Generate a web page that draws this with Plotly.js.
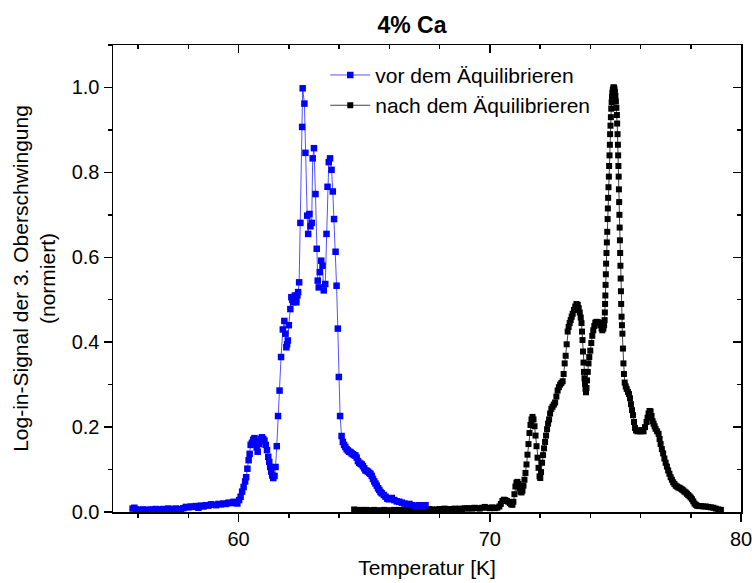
<!DOCTYPE html>
<html>
<head>
<meta charset="utf-8">
<script src="https://cdn.plot.ly/plotly-3.0.1.min.js"></script>
<style>html,body{margin:0;padding:0;background:#fff;}#chart{width:752px;height:583px;}</style>
</head>
<body>
<div id="chart"></div>
<script>
// ---- Data ----
const titleText = "4% Ca";
const xTitle = "Temperatur [K]";
const yTitle = "Log-in-Signal der 3. Oberschwingung<br>(normiert)";
const seriesNames = ["vor dem Äquilibrieren", "nach dem Äquilibrieren"];

const vorX = [55.78,55.85,55.92,56.0,56.1,56.2,56.3,56.4,56.5,56.6,56.7,56.8,56.9,57.0,57.1,57.2,57.3,57.4,57.5,57.6,57.7,57.8,57.9,58.0,58.1,58.2,58.3,58.4,58.5,58.6,58.7,58.8,58.9,59.0,59.1,59.2,59.3,59.4,59.5,59.6,59.7,59.8,59.9,59.95,
60.02,60.08,60.14,60.2,60.26,60.3,60.35,60.4,60.44,60.48,60.53,60.58,60.63,60.68,60.72,60.76,60.82,60.88,60.93,60.98,61.03,61.08,61.13,61.18,61.22,61.26,61.3,61.34,61.38,61.43,61.47,61.52,61.57,61.63,61.69,61.76,61.82,61.86,61.9,61.93,61.96,62.0,62.06,62.1,62.14,62.17,62.21,62.24,62.28,62.3,62.34,62.37,62.41,62.46,62.53,62.55,62.62,62.66,62.73,62.77,62.82,62.86,62.91,62.95,63.0,63.06,63.11,63.15,63.19,63.23,63.29,63.34,63.39,63.45,63.5,63.54,63.59,63.64,63.7,63.75,63.8,63.86,63.9,63.95,63.99,64.04,64.1,64.15,64.2,64.25,64.3,64.35,64.4,64.45,64.5,64.55,64.6,64.65,64.7,64.75,64.8,64.85,64.9,64.95,65.0,65.05,65.1,65.15,65.2,65.25,65.3,65.35,65.4,65.45,65.5,65.55,65.6,65.65,65.7,65.78,65.85,65.92,66.0,66.1,66.2,66.3,66.4,66.5,66.6,66.7,66.8,66.9,67.0,67.1,67.2,67.3,67.44];
const vorY = [0.008,0.010,0.006,0.005,0.004,0.006,0.005,0.004,0.006,0.005,0.007,0.006,0.005,0.007,0.006,0.008,0.007,0.006,0.008,0.007,0.006,0.009,0.012,0.011,0.013,0.012,0.014,0.010,0.015,0.013,0.016,0.015,0.018,0.017,0.016,0.019,0.018,0.020,0.019,0.022,0.021,0.024,0.022,0.020,
0.028,0.036,0.048,0.059,0.072,0.082,0.102,0.122,0.137,0.158,0.163,0.170,0.174,0.165,0.152,0.142,0.160,0.172,0.176,0.172,0.168,0.158,0.146,0.130,0.118,0.106,0.095,0.086,0.080,0.085,0.106,0.155,0.226,0.286,0.365,0.430,0.450,0.420,0.388,0.395,0.404,0.440,0.478,0.506,0.500,0.494,0.505,0.510,0.500,0.494,0.510,0.518,0.541,0.681,0.907,0.998,0.962,0.846,0.698,0.655,0.702,0.673,0.681,0.833,0.857,0.749,0.620,0.545,0.529,0.565,0.592,0.580,0.522,0.537,0.655,0.766,0.824,0.833,0.806,0.755,0.690,0.613,0.533,0.432,0.318,0.226,0.179,0.165,0.158,0.153,0.148,0.145,0.142,0.141,0.138,0.136,0.134,0.133,0.128,0.120,0.116,0.114,0.112,0.108,0.103,0.098,0.097,0.095,0.092,0.090,0.085,0.078,0.072,0.067,0.062,0.056,0.052,0.047,0.044,0.040,0.036,0.031,0.030,0.033,0.028,0.025,0.024,0.022,0.020,0.018,0.019,0.016,0.015,0.014,0.016,0.015,0.016];

const nachX = [64.6,64.7,64.8,64.9,65.0,65.1,65.2,65.3,65.4,65.5,65.6,65.7,65.8,65.9,66.0,66.1,66.2,66.3,66.4,66.5,66.6,66.7,66.8,66.9,67.0,67.1,67.2,67.3,67.4,67.5,67.6,67.7,67.8,67.9,68.0,68.1,68.2,68.3,68.4,68.5,68.6,68.7,68.8,68.9,69.0,69.1,69.2,69.3,69.4,69.5,69.6,69.7,69.8,69.9,70.0,70.1,70.2,70.3,
70.38,70.44,70.5,70.56,70.62,70.68,70.74,70.8,70.85,70.9,70.94,70.98,71.02,71.06,71.1,71.14,71.18,71.22,71.26,71.3,71.34,71.38,71.42,71.46,71.5,71.54,71.58,71.62,71.66,71.7,71.74,71.78,71.82,71.86,71.9,71.94,71.98,72.01,72.04,72.08,72.12,72.16,72.2,72.24,72.28,72.32,72.36,72.4,72.45,72.5,72.55,72.6,72.65,72.7,72.75,72.8,72.85,72.9,72.94,72.98,73.02,73.06,73.1,73.14,73.18,73.22,73.26,73.3,73.35,73.4,73.45,73.5,73.54,73.58,73.62,73.65,73.67,73.69,73.71,73.73,73.75,73.77,73.79,73.81,73.83,73.85,73.87,73.9,73.93,73.96,74.0,74.04,74.08,74.12,74.16,74.2,74.25,74.3,74.35,74.4,74.45,74.48,74.52,74.55,74.57,
74.58,74.59,74.6,74.61,74.62,74.63,74.645,74.66,74.675,74.69,74.7,74.71,74.725,74.74,74.75,74.765,74.78,74.79,74.805,74.82,74.835,74.85,74.865,74.88,74.9,74.92,74.94,74.96,74.98,75.0,75.02,75.04,75.06,75.07,75.085,75.1,75.11,75.12,75.13,75.14,75.15,75.16,75.17,75.18,75.19,75.2,75.21,75.22,75.23,75.245,75.26,75.28,75.3,75.32,75.34,75.37,75.41,75.45,75.5,75.54,75.58,75.62,75.66,75.7,75.74,75.78,75.82,75.88,75.94,76.0,76.06,76.12,76.18,76.24,76.28,76.32,76.36,76.4,76.44,76.48,76.52,76.56,76.6,76.66,76.72,76.76,76.8,76.85,76.9,76.95,77.0,77.05,77.1,77.15,77.2,77.25,77.3,77.35,77.4,77.45,77.5,77.55,77.6,77.65,77.7,77.75,77.8,77.85,77.9,77.95,78.0,78.05,78.1,78.15,78.2,78.25,78.3,78.4,78.5,78.6,78.7,78.8,78.9,79.0,79.1,79.2];
const nachY = [0.006,0.005,0.004,0.005,0.004,0.005,0.003,0.004,0.005,0.004,0.003,0.004,0.005,0.004,0.003,0.004,0.005,0.004,0.005,0.004,0.005,0.006,0.005,0.004,0.005,0.006,0.005,0.006,0.005,0.006,0.007,0.006,0.005,0.006,0.007,0.006,0.008,0.006,0.007,0.006,0.008,0.007,0.008,0.007,0.009,0.008,0.009,0.008,0.010,0.009,0.008,0.010,0.012,0.010,0.009,0.011,0.009,0.010,
0.013,0.019,0.026,0.029,0.028,0.026,0.024,0.021,0.018,0.017,0.024,0.042,0.060,0.069,0.071,0.066,0.056,0.048,0.046,0.050,0.062,0.076,0.092,0.112,0.135,0.160,0.186,0.205,0.218,0.224,0.218,0.202,0.180,0.155,0.128,0.104,0.084,0.080,0.094,0.116,0.134,0.150,0.165,0.180,0.195,0.208,0.218,0.232,0.243,0.248,0.253,0.258,0.272,0.286,0.294,0.300,0.304,0.308,0.325,0.350,0.368,0.395,0.425,0.436,0.445,0.452,0.460,0.467,0.476,0.484,0.490,0.488,0.480,0.470,0.458,0.445,0.425,0.405,0.378,0.352,0.330,0.315,0.302,0.290,0.282,0.292,0.310,0.330,0.350,0.365,0.380,0.398,0.415,0.428,0.438,0.446,0.448,0.447,0.446,0.440,0.432,0.428,0.432,0.440,0.452,
0.470,0.490,0.510,0.535,0.560,0.585,0.610,0.635,0.660,0.690,0.715,0.740,0.765,0.790,0.815,0.840,0.865,0.890,0.910,0.930,0.950,0.965,0.978,0.988,0.995,1.000,1.000,0.997,0.990,0.980,0.967,0.952,0.935,0.915,0.890,0.865,0.840,0.815,0.790,0.760,0.730,0.700,0.670,0.640,0.610,0.580,0.550,0.520,0.490,0.460,0.440,0.420,0.385,0.350,0.325,0.305,0.296,0.290,0.283,0.278,0.268,0.254,0.240,0.228,0.212,0.198,0.192,0.190,0.192,0.190,0.193,0.190,0.200,0.212,0.222,0.232,0.238,0.237,0.226,0.214,0.208,0.202,0.196,0.190,0.184,0.172,0.160,0.148,0.138,0.126,0.116,0.107,0.098,0.090,0.082,0.076,0.070,0.066,0.062,0.060,0.058,0.057,0.055,0.053,0.051,0.048,0.046,0.043,0.040,0.037,0.034,0.030,0.025,0.020,0.017,0.015,0.014,0.014,0.013,0.013,0.012,0.011,0.010,0.008,0.006,0.005];

const xRange = [55, 80];
const yRange = [0, 1.1];

// ---- Chart ----
const FONT = "Liberation Sans, Arial, Helvetica, sans-serif";
// blue series on the overlay (top/right) axes so it is drawn above the black one; both axis pairs share the same ranges
const traces = [
  {x: vorX, y: vorY, name: seriesNames[0], type: 'scatter', mode: 'lines+markers', xaxis: 'x2', yaxis: 'y2',
   line: {color: 'rgba(40,40,255,0.8)', width: 1},
   marker: {symbol: 'square', size: 6.5, color: '#0000ff', line: {width: 0}}},
  {x: nachX, y: nachY, name: seriesNames[1], type: 'scatter', mode: 'lines+markers', xaxis: 'x', yaxis: 'y',
   line: {color: 'rgba(0,0,0,0.75)', width: 1},
   marker: {symbol: 'square', size: 6, color: '#000000', line: {width: 0}}}
];

const axisCommon = {showgrid: false, zeroline: false, showline: true, linecolor: '#000', linewidth: 1.5,
  tickcolor: '#000', tickwidth: 1.5, ticklen: 8, ticklabeloverflow: 'allow',
  tickfont: {family: FONT, size: 20, color: '#000'}};

const layout = {
  width: 752, height: 583,
  margin: {l: 113, r: 11, t: 45, b: 71, pad: 0},
  paper_bgcolor: '#fff', plot_bgcolor: '#fff',
  font: {family: FONT, color: '#000'},
  title: {text: '<b>' + titleText + '</b>', font: {family: FONT, size: 23, color: '#000'},
          x: 0.476, xref: 'paper', xanchor: 'center', y: 0.957, yref: 'container', yanchor: 'middle'},
  showlegend: true,
  legend: {x: 0.338, y: 0.979, xanchor: 'left', yanchor: 'top', bgcolor: 'rgba(0,0,0,0)',
           font: {family: FONT, size: 21, color: '#000'}, itemwidth: 40, tracegroupgap: 0},
  xaxis: Object.assign({}, axisCommon, {range: xRange, dtick: 10, tick0: 0, ticks: 'outside', anchor: 'y',
    minor: {dtick: 2, tick0: 0, ticks: 'outside', ticklen: 4, tickwidth: 1.5, tickcolor: '#000'},
    title: {text: xTitle, font: {family: FONT, size: 21, color: '#000'}, standoff: 12}}),
  yaxis: Object.assign({}, axisCommon, {range: yRange, dtick: 0.2, tick0: 0, ticks: 'outside', tickformat: '.1f', anchor: 'x',
    minor: {dtick: 0.1, tick0: 0, ticks: 'outside', ticklen: 4, tickwidth: 1.5, tickcolor: '#000'},
    title: {text: yTitle, font: {family: FONT, size: 21, color: '#000'}, standoff: 10}}),
  xaxis2: Object.assign({}, axisCommon, {range: xRange, overlaying: 'x', side: 'top', anchor: 'y2', dtick: 10, tick0: 0,
    ticks: 'inside', showticklabels: false,
    minor: {dtick: 2, tick0: 0, ticks: 'inside', ticklen: 4, tickwidth: 1.5, tickcolor: '#000'}}),
  yaxis2: Object.assign({}, axisCommon, {range: yRange, overlaying: 'y', side: 'right', anchor: 'x2', dtick: 0.2, tick0: 0,
    ticks: 'inside', showticklabels: false,
    minor: {dtick: 0.1, tick0: 0, ticks: 'inside', ticklen: 4, tickwidth: 1.5, tickcolor: '#000'}})
};

Plotly.newPlot('chart', traces, layout, {displayModeBar: false, staticPlot: true});
</script>
</body>
</html>
